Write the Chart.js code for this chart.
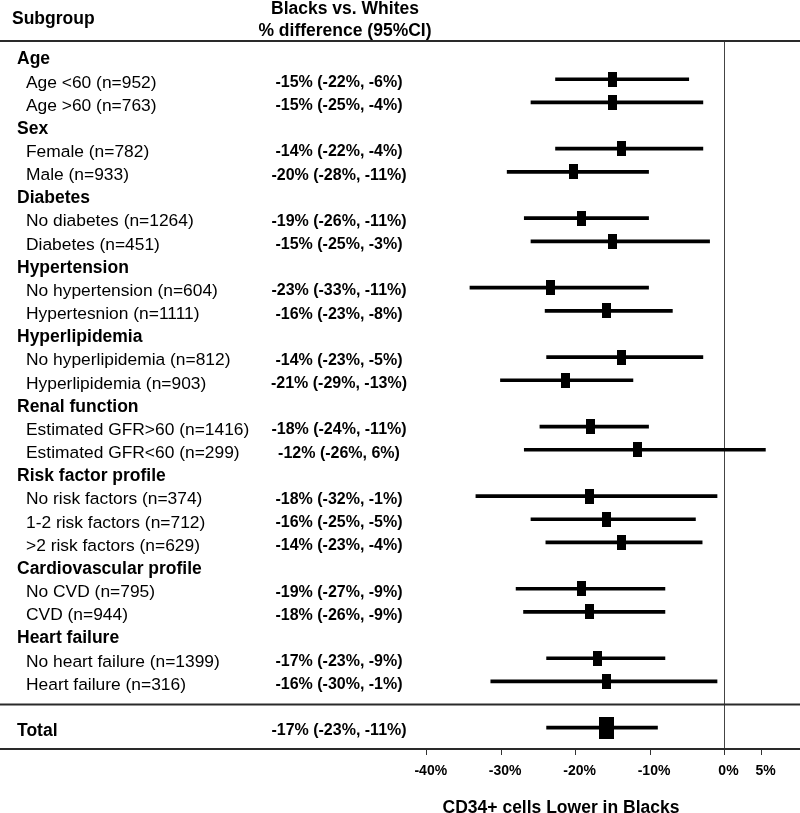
<!DOCTYPE html>
<html><head><meta charset="utf-8">
<script src="https://cdn.jsdelivr.net/npm/chart.js@4/dist/chart.umd.min.js"></script>
<style>html,body{margin:0;padding:0;background:#fff}#wrap{width:800px;height:813px;position:relative}</style>
</head><body><div id="wrap"><canvas id="c"></canvas></div>
<script>
// ---- data ----
const rowLabels = [
  'Age','Age <60 (n=952)','Age >60 (n=763)',
  'Sex','Female (n=782)','Male (n=933)',
  'Diabetes','No diabetes (n=1264)','Diabetes (n=451)',
  'Hypertension','No hypertension (n=604)','Hypertesnion (n=1111)',
  'Hyperlipidemia','No hyperlipidemia (n=812)','Hyperlipidemia (n=903)',
  'Renal function','Estimated GFR>60 (n=1416)','Estimated GFR<60 (n=299)',
  'Risk factor profile','No risk factors (n=374)','1-2 risk factors (n=712)','>2 risk factors (n=629)',
  'Cardiovascular profile','No CVD (n=795)','CVD (n=944)',
  'Heart failure','No heart failure (n=1399)','Heart failure (n=316)',
  '', 'Total'
];
const rowTypes = [
  'group','item','item','group','item','item','group','item','item',
  'group','item','item','group','item','item','group','item','item',
  'group','item','item','item','group','item','item','group','item','item',
  'blank','total'
];
const ciLabels = [
  '','-15% (-22%, -6%)','-15% (-25%, -4%)',
  '','-14% (-22%, -4%)','-20% (-28%, -11%)',
  '','-19% (-26%, -11%)','-15% (-25%, -3%)',
  '','-23% (-33%, -11%)','-16% (-23%, -8%)',
  '','-14% (-23%, -5%)','-21% (-29%, -13%)',
  '','-18% (-24%, -11%)','-12% (-26%, 6%)',
  '','-18% (-32%, -1%)','-16% (-25%, -5%)','-14% (-23%, -4%)',
  '','-19% (-27%, -9%)','-18% (-26%, -9%)',
  '','-17% (-23%, -9%)','-16% (-30%, -1%)',
  '','-17% (-23%, -11%)'
];
const estimates = [
  null,-15.0,-15.0, null,-13.8,-20.3, null,-19.2,-15.0, null,-23.4,-15.9,
  null,-13.9,-21.3, null,-18.0,-11.7, null,-18.1,-15.9,-13.9, null,-19.2,-18.1,
  null,-17.1,-15.9, null,-15.9
];
const ciLower = [
  null,-22.7,-26.0, null,-22.7,-29.2, null,-26.9,-26.0, null,-34.2,-24.1,
  null,-23.9,-30.1, null,-24.8,-26.9, null,-33.4,-26.0,-24.0, null,-28.0,-27.0,
  null,-23.9,-31.4, null,-23.9
];
const ciUpper = [
  null,-4.8,-2.9, null,-2.9,-10.2, null,-10.2,-2.0, null,-10.2,-7.0,
  null,-2.9,-12.3, null,-10.2,5.5, null,-1.0,-3.9,-3.0, null,-8.0,-8.0,
  null,-8.0,-1.0, null,-9.0
];
const xTickValues = [-40,-30,-20,-10,0,5];
const headerSubgroup = 'Subgroup';
const headerEffect = ['Blacks vs. Whites','% difference (95%CI)'];
const axisTitle = 'CD34+ cells Lower in Blacks';

// ---- build datasets ----
const FONT = "'Liberation Sans', Arial, Helvetica, sans-serif";
const itemPoints = [], totalPoints = [], ciBars = [];
rowLabels.forEach((l, i) => {
  if (estimates[i] == null) return;
  (rowTypes[i] === 'total' ? totalPoints : itemPoints).push({x: estimates[i], y: i});
  ciBars.push({x: [ciLower[i], ciUpper[i]], y: i});
});
function markerImg(w, h) {
  const c = document.createElement('canvas');
  c.width = w; c.height = h;
  const g = c.getContext('2d');
  g.fillStyle = '#000'; g.fillRect(0, 0, w, h);
  return c;
}
const smallMarker = markerImg(9, 15);
const bigMarker = markerImg(15, 22);

const tablePlugin = {
  id: 'table',
  beforeDatasetsDraw(chart) {
    const {ctx, chartArea: ca, scales: {x, y}} = chart;
    ctx.save();
    // vertical zero line
    const x0 = Math.round(x.getPixelForValue(0)) + 0.5;
    ctx.strokeStyle = '#444'; ctx.lineWidth = 1;
    ctx.beginPath(); ctx.moveTo(x0, ca.top); ctx.lineTo(x0, ca.bottom); ctx.stroke();
    // horizontal rules
    ctx.strokeStyle = '#2a2a2a'; ctx.lineWidth = 2;
    const sepRow = rowTypes.indexOf('blank');
    const ys = [ca.top, y.getPixelForValue(sepRow), ca.bottom];
    ys.forEach(yy => { ctx.beginPath(); ctx.moveTo(0, yy); ctx.lineTo(chart.width, yy); ctx.stroke(); });
    ctx.restore();
  },
  afterDraw(chart) {
    const {ctx, scales: {x, y}} = chart;
    ctx.save();
    ctx.fillStyle = '#000';
    ctx.textBaseline = 'alphabetic';
    // header
    ctx.font = 'bold 17.5px ' + FONT;
    ctx.textAlign = 'left';
    ctx.fillText(headerSubgroup, 12, 24);
    ctx.textAlign = 'center';
    ctx.fillText(headerEffect[0], 345, 13.5);
    ctx.fillText(headerEffect[1], 345, 36);
    // rows
    rowLabels.forEach((lab, i) => {
      const yy = y.getPixelForValue(i);
      const t = rowTypes[i];
      if (t === 'blank') return;
      if (t === 'group' || t === 'total') {
        ctx.font = 'bold 17.5px ' + FONT;
        ctx.textAlign = 'left';
        ctx.fillText(lab, 17, yy + 8.3);
      } else {
        ctx.font = '17.4px ' + FONT;
        ctx.textAlign = 'left';
        ctx.fillText(lab, 26, yy + 8.3);
      }
      if (ciLabels[i]) {
        ctx.font = 'bold 16px ' + FONT;
        ctx.textAlign = 'center';
        ctx.fillText(ciLabels[i], 339, yy + 7.8);
      }
    });
    // axis title
    ctx.font = 'bold 17.5px ' + FONT;
    ctx.textAlign = 'center';
    ctx.fillText(axisTitle, 561, 813);
    ctx.restore();
  }
};

new Chart(document.getElementById('c'), {
  type: 'scatter',
  data: {
    datasets: [
      { label: 'Total', data: totalPoints, pointStyle: bigMarker, pointRadius: 8, order: 0 },
      { label: 'Subgroups', data: itemPoints, pointStyle: smallMarker, pointRadius: 6, order: 0 },
      { type: 'bar', label: 'CI', data: ciBars, indexAxis: 'y', barThickness: 3,
        backgroundColor: '#000', borderWidth: 0, order: 1 }
    ]
  },
  options: {
    responsive: true, maintainAspectRatio: false, animation: false,
    layout: { autoPadding: false, padding: { top: 41, left: 0, right: 0, bottom: 0 } },
    plugins: { legend: { display: false }, tooltip: { enabled: false } },
    scales: {
      x: {
        type: 'linear', min: -97.35, max: 10.15, bounds: 'data',
        afterBuildTicks: s => { s.ticks = xTickValues.map(v => ({ value: v })); },
        afterFit: s => { s.height = 64; s.paddingLeft = 0; s.paddingRight = 0; },
        border: { display: false },
        grid: { drawOnChartArea: false, drawTicks: true, tickLength: 6, color: '#333', lineWidth: 1 },
        ticks: {
          callback: v => v + '%', color: '#000', padding: 7.5, labelOffset: 4,
          maxRotation: 0, autoSkip: false,
          font: { family: FONT, size: 14, weight: 'bold' }
        },
        title: { display: false }
      },
      y: {
        type: 'linear', min: -0.65, max: 29.92, reverse: true, display: false,
        offset: false, grid: { offset: false }
      }
    }
  },
  plugins: [tablePlugin]
});
</script>
</body></html>
